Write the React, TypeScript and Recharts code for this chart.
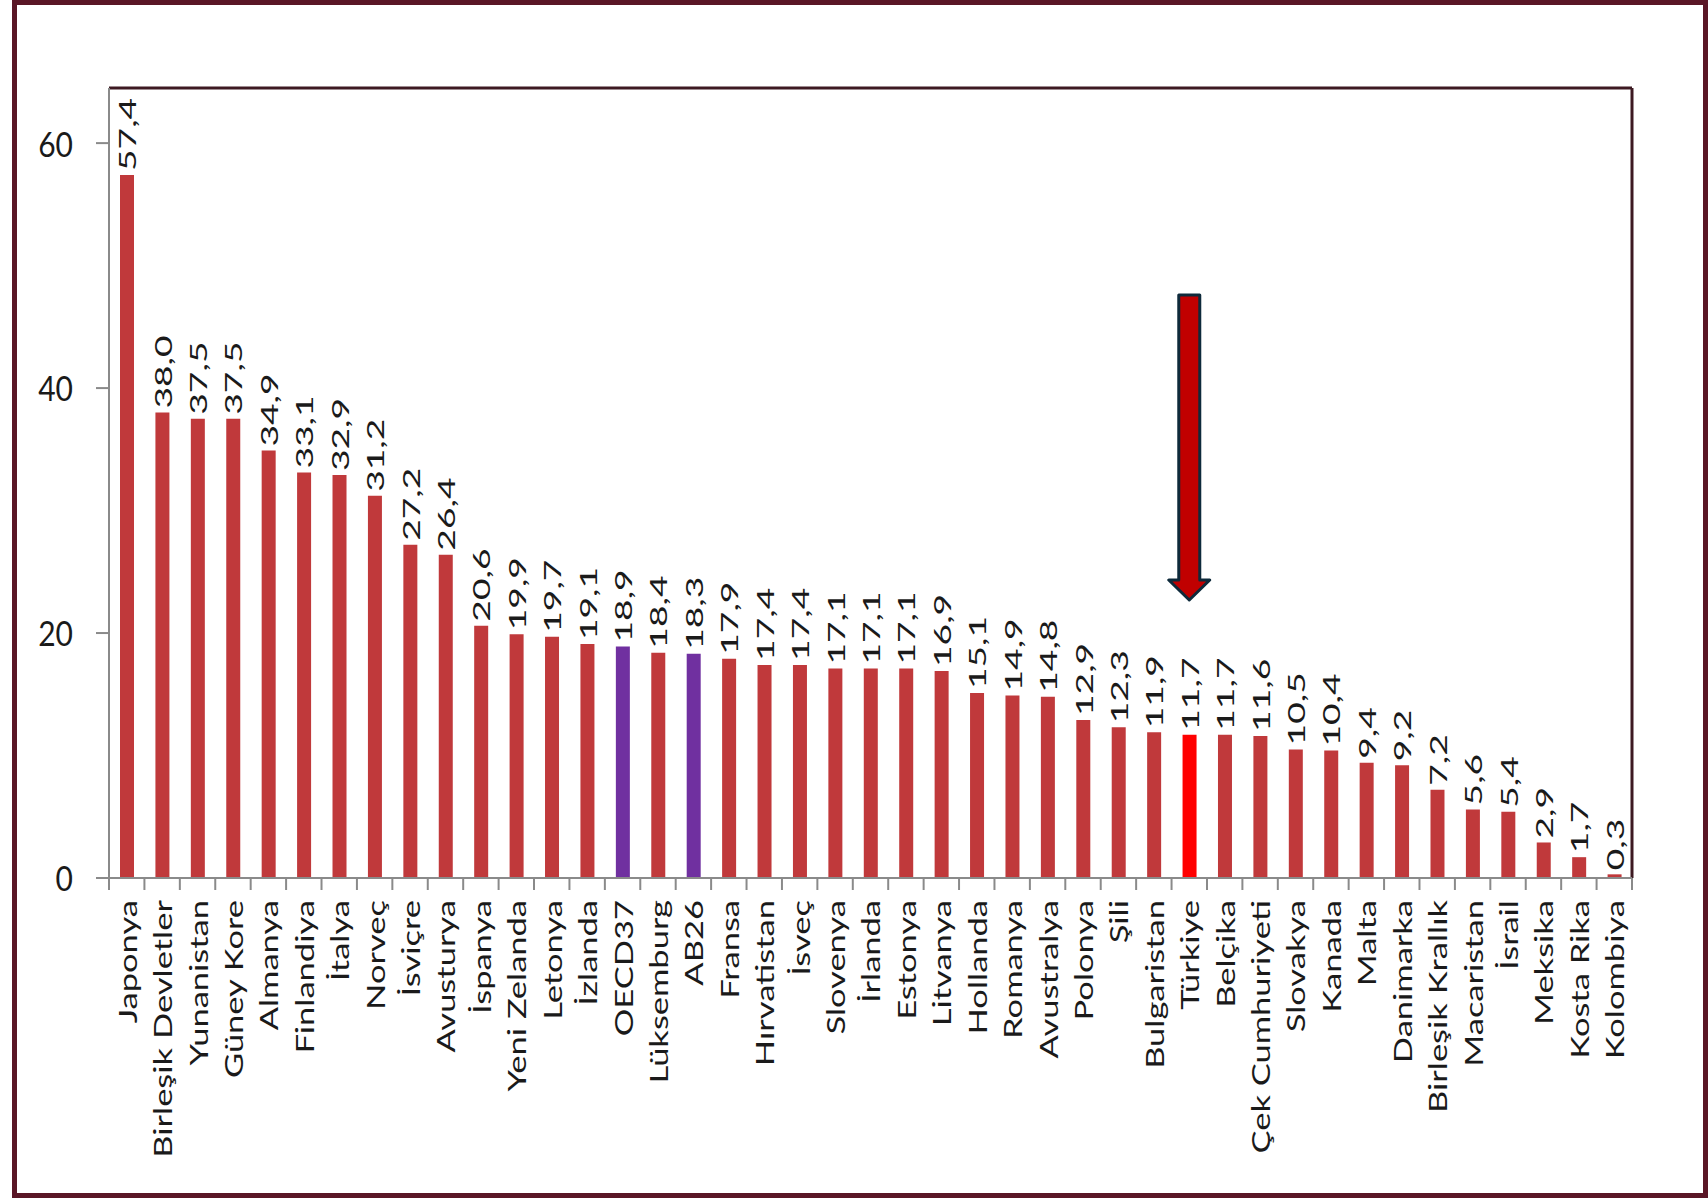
import React from 'react';
import { BarChart, Bar, XAxis, YAxis, Cell, LabelList, ReferenceArea, ReferenceLine } from 'recharts';

const countries = [
  'Japonya', 'Birleşik Devletler', 'Yunanistan', 'Güney Kore', 'Almanya', 'Finlandiya', 'İtalya',
  'Norveç', 'İsviçre', 'Avusturya', 'İspanya', 'Yeni Zelanda', 'Letonya', 'İzlanda', 'OECD37',
  'Lüksemburg', 'AB26', 'Fransa', 'Hırvatistan', 'İsveç', 'Slovenya', 'İrlanda', 'Estonya',
  'Litvanya', 'Hollanda', 'Romanya', 'Avustralya', 'Polonya', 'Şili', 'Bulgaristan', 'Türkiye',
  'Belçika', 'Çek Cumhuriyeti', 'Slovakya', 'Kanada', 'Malta', 'Danimarka', 'Birleşik Krallık',
  'Macaristan', 'İsrail', 'Meksika', 'Kosta Rika', 'Kolombiya',
];

const shares = [
  57.4, 38.0, 37.5, 37.5, 34.9, 33.1, 32.9, 31.2, 27.2, 26.4, 20.6, 19.9, 19.7, 19.1, 18.9,
  18.4, 18.3, 17.9, 17.4, 17.4, 17.1, 17.1, 17.1, 16.9, 15.1, 14.9, 14.8, 12.9, 12.3, 11.9, 11.7,
  11.7, 11.6, 10.5, 10.4, 9.4, 9.2, 7.2, 5.6, 5.4, 2.9, 1.7, 0.3,
];

const yTicks = [0, 20, 40, 60];
const yMax = 64.5;

// arrow pointing at Türkiye (data units)
const arrowTop = 47.6;
const arrowTip = 22.7;

const data = countries.map((name, i) => ({ name, value: shares[i] }));

const BAR_COLOR = '#C0393B';
const barColors: Record<string, string> = {
  OECD37: '#7030A0',
  AB26: '#7030A0',
  'Türkiye': '#FF0000',
};

const FONT = 'Lato, "Open Sans", sans-serif';
const W = 1708;
const H = 1203;
const LEFT = 109;
const RIGHT = 76;
const BAND = (W - LEFT - RIGHT) / countries.length;
const X_TICK = 12;
const X_MARGIN = 10;
const AXIS_GRAY = '#8A8A8A';
const FRAME = '#3D1A22';

const fmt = (v: number) => v.toFixed(1).replace('.', ',');

function CountryTick(props: any) {
  const { x, y, payload } = props;
  const axisY = y - X_TICK - X_MARGIN;
  const half = BAND / 2;
  const isLast = payload.value === countries[countries.length - 1];
  return (
    <g>
      <line x1={x - half} x2={x - half} y1={axisY} y2={axisY + X_TICK} stroke={AXIS_GRAY} strokeWidth={2} />
      {isLast && (
        <line x1={x + half} x2={x + half} y1={axisY} y2={axisY + X_TICK} stroke={AXIS_GRAY} strokeWidth={2} />
      )}
      <text
        transform={`translate(${x},${y}) rotate(-90) scale(1.38,1)`}
        textAnchor="end"
        dominantBaseline="central"
        fontFamily={FONT}
        fontSize={25}
        fill="#1a1a1a"
      >
        {payload.value}
      </text>
    </g>
  );
}

function ValueTick(props: any) {
  const { x, y, payload } = props;
  return (
    <text
      transform={`translate(${x},${y}) scale(1,1.16)`}
      textAnchor="end"
      dominantBaseline="central"
      fontFamily={FONT}
      fontSize={30}
      fill="#1a1a1a"
    >
      {payload.value}
    </text>
  );
}

function BarValue(props: any) {
  const { x, y, width, value } = props;
  const cx = x + width / 2;
  return (
    <text
      transform={`translate(${cx},${y - 4}) rotate(-90) scale(1.55,1)`}
      textAnchor="start"
      dominantBaseline="central"
      fontFamily={FONT}
      fontSize={24}
      fill="#1a1a1a"
    >
      {fmt(value)}
    </text>
  );
}

function Arrow(p: any) {
  const cx = p.x + p.width / 2;
  const top = p.y;
  const tip = p.y + p.height;
  const shaft = 10.5;
  const head = 20.5;
  const headLen = 20;
  const pts = [
    [cx - shaft, top], [cx + shaft, top], [cx + shaft, tip - headLen], [cx + head, tip - headLen],
    [cx, tip], [cx - head, tip - headLen], [cx - shaft, tip - headLen],
  ].map((q) => q.join(',')).join(' ');
  return <polygon points={pts} fill="#C00000" stroke="#0E2A3B" strokeWidth={3} strokeLinejoin="round" />;
}

export default function App() {
  return (
    <div style={{ position: 'absolute', left: 0, top: 0, width: W, height: H, background: '#fff' }}>
      <div
        style={{
          position: 'absolute', left: 12, top: 0, width: W - 12, height: 1198,
          border: '5px solid #5A1626', boxSizing: 'border-box',
        }}
      />
      <div style={{ position: 'absolute', left: 0, top: 0 }}>
        <BarChart width={W} height={H} data={data} margin={{ top: 88, right: RIGHT, bottom: 0, left: 0 }}>
          <XAxis
            dataKey="name"
            interval={0}
            height={325}
            tickLine={false}
            tickSize={X_TICK}
            tickMargin={X_MARGIN}
            axisLine={{ stroke: AXIS_GRAY, strokeWidth: 2 }}
            tick={<CountryTick />}
          />
          <YAxis
            width={LEFT}
            domain={[0, yMax]}
            ticks={yTicks}
            allowDataOverflow
            tickSize={13}
            tickMargin={23}
            axisLine={{ stroke: AXIS_GRAY, strokeWidth: 2 }}
            tickLine={{ stroke: AXIS_GRAY, strokeWidth: 2 }}
            tick={<ValueTick />}
          />
          <ReferenceLine y={yMax} stroke={FRAME} strokeWidth={3} ifOverflow="visible" />
          <ReferenceLine
            x={countries[countries.length - 1]}
            position="end"
            stroke={FRAME}
            strokeWidth={3}
            ifOverflow="visible"
          />
          <Bar dataKey="value" barSize={14} isAnimationActive={false}>
            {data.map((d) => (
              <Cell key={d.name} fill={barColors[d.name] ?? BAR_COLOR} />
            ))}
            <LabelList dataKey="value" content={<BarValue />} />
          </Bar>
          <ReferenceArea
            x1="Türkiye"
            x2="Türkiye"
            y1={arrowTip}
            y2={arrowTop}
            shape={<Arrow />}
          />
        </BarChart>
      </div>
    </div>
  );
}
